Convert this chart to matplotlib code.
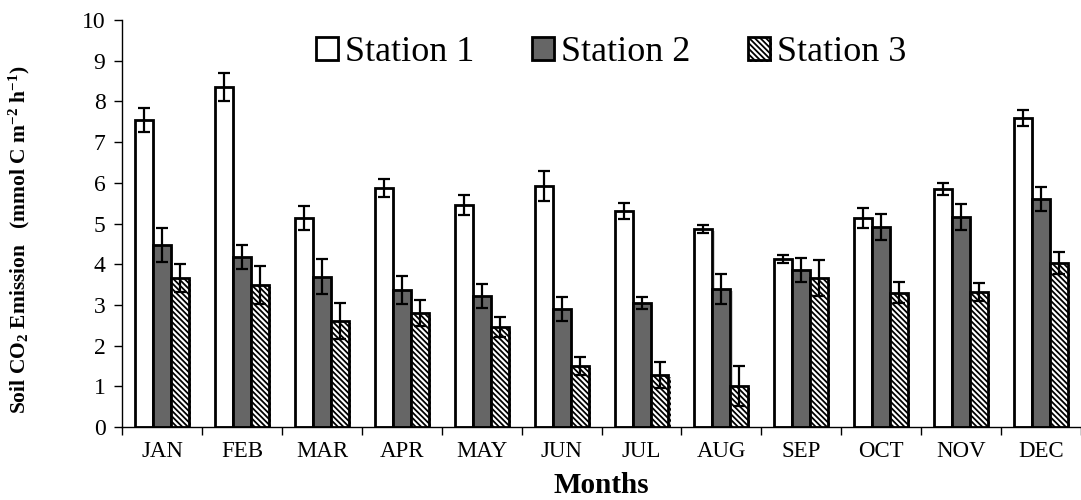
import numpy as np
import matplotlib
matplotlib.use("Agg")
import matplotlib.pyplot as plt
import matplotlib.patheffects as pe

# datos
months = ["JAN", "FEB", "MAR", "APR", "MAY", "JUN", "JUL", "AUG", "SEP", "OCT", "NOV", "DEC"]
station1 = [7.55, 8.35, 5.14, 5.87, 5.45, 5.92, 5.31, 4.86, 4.13, 5.13, 5.85, 7.59]
station1_err = [0.30, 0.35, 0.30, 0.22, 0.25, 0.37, 0.20, 0.10, 0.10, 0.25, 0.15, 0.20]
station2 = [4.47, 4.18, 3.69, 3.37, 3.22, 2.90, 3.05, 3.39, 3.86, 4.91, 5.16, 5.60]
station2_err = [0.42, 0.30, 0.43, 0.35, 0.30, 0.30, 0.15, 0.37, 0.29, 0.32, 0.32, 0.30]
station3 = [3.66, 3.49, 2.60, 2.80, 2.45, 1.50, 1.28, 1.01, 3.66, 3.30, 3.31, 4.03]
station3_err = [0.34, 0.47, 0.45, 0.32, 0.25, 0.22, 0.32, 0.49, 0.44, 0.26, 0.22, 0.27]

plt.rcParams["font.family"] = ["Liberation Serif", "DejaVu Serif"]
plt.rcParams["mathtext.fontset"] = "custom"
plt.rcParams["mathtext.rm"] = "Liberation Serif:bold"
plt.rcParams["mathtext.bf"] = "Liberation Serif:bold"
plt.rcParams["mathtext.it"] = "Liberation Serif:bold"
plt.rcParams["hatch.linewidth"] = 1.3

fig = plt.figure(figsize=(10.81, 5.0), dpi=100)
ax = fig.add_axes([0.113, 0.146, 0.887, 0.814])

x = np.arange(len(months))
w = 0.225
shadow = [pe.SimplePatchShadow(offset=(1.5, -1.5), shadow_rgbFace="0.5", alpha=0.35), pe.Normal()]
err_kw = dict(ecolor="black", elinewidth=1.6, capsize=4, capthick=1.6)

b1 = ax.bar(x - w, station1, w, yerr=station1_err, color="white", edgecolor="black",
            linewidth=2, label="Station 1", error_kw=err_kw)
b2 = ax.bar(x, station2, w, yerr=station2_err, color="#666666", edgecolor="black",
            linewidth=2, label="Station 2", error_kw=err_kw)
b3 = ax.bar(x + w, station3, w, yerr=station3_err, color="white", edgecolor="black",
            linewidth=2, hatch="\\\\\\\\\\\\", label="Station 3", error_kw=err_kw)
for bars in (b1, b2, b3):
    for p in bars.patches:
        p.set_path_effects(shadow)

ax.set_xlim(-0.5, len(months) - 0.5)
ax.set_ylim(0, 10)
ax.set_yticks(range(0, 11))
ax.set_xticks(x)
ax.set_xticklabels(months)
ax.set_xticks(np.arange(-0.5, len(months)), minor=True)
ax.tick_params(axis="x", which="major", length=0, labelsize=16.5, pad=10)
ax.tick_params(axis="x", which="minor", length=6, width=1, direction="out")
ax.tick_params(axis="y", labelsize=17, length=6, width=1, direction="out", pad=6)

ax.spines["top"].set_visible(False)
ax.spines["right"].set_visible(False)
ax.spines["left"].set_linewidth(1)
ax.spines["bottom"].set_linewidth(1)

ax.set_xlabel("Months", fontsize=21, fontweight="bold", labelpad=7)
ax.set_ylabel(r"Soil CO$_{2}$ Emission   (mmol C m$^{-2}$ h$^{-1}$)",
              fontsize=15.5, fontweight="bold")
ax.yaxis.set_label_coords(-0.094, 0.46)

leg = ax.legend(loc="upper center", bbox_to_anchor=(0.51, 1.04), ncol=3, frameon=False,
                fontsize=26, handlelength=0.6, handleheight=0.6, handletextpad=0.2,
                columnspacing=1.6)

fig.savefig("out.png", dpi=100)
